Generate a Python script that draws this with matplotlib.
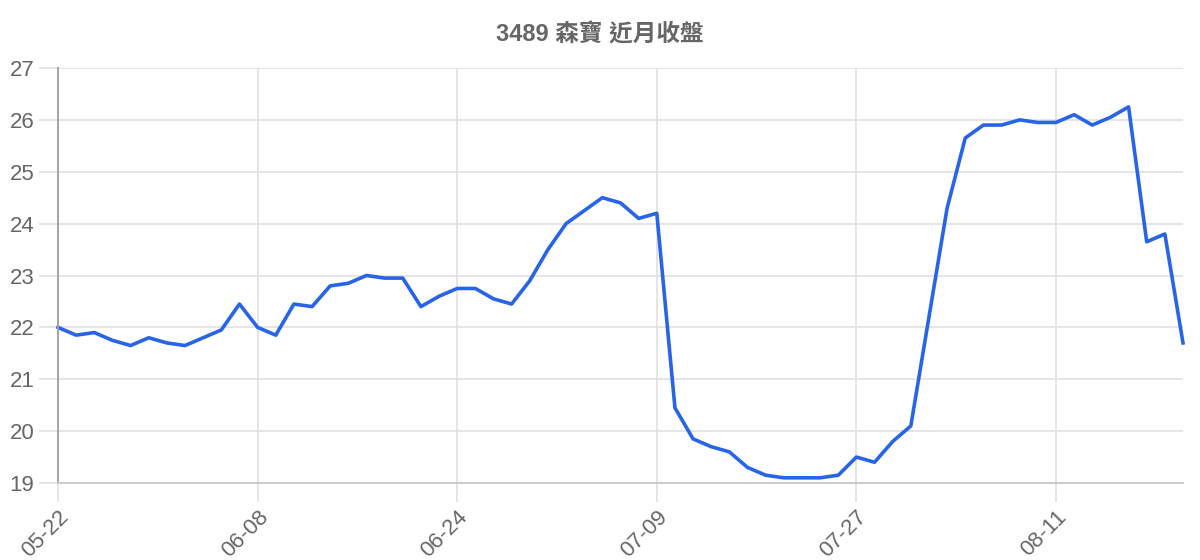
import matplotlib
matplotlib.use('Agg')
import matplotlib.pyplot as plt

plt.rcParams['font.family'] = ['Liberation Sans', 'Noto Sans CJK TC', 'DejaVu Sans']

# closing prices, 63 trading days
closes = [22.0, 21.85, 21.9, 21.75, 21.65, 21.8, 21.7, 21.65, 21.8, 21.95,
          22.45, 22.0, 21.85, 22.45, 22.4, 22.8, 22.85, 23.0, 22.95, 22.95,
          22.4, 22.6, 22.75, 22.75, 22.55, 22.45, 22.9, 23.5, 24.0, 24.25,
          24.5, 24.4, 24.1, 24.2, 20.45, 19.85, 19.7, 19.6, 19.3, 19.15,
          19.1, 19.1, 19.1, 19.15, 19.5, 19.4, 19.8, 20.1, 22.2, 24.3,
          25.65, 25.9, 25.9, 26.0, 25.95, 25.95, 26.1, 25.9, 26.05, 26.25,
          23.65, 23.8, 21.7]
tick_pos = [0, 11, 22, 33, 44, 55]
tick_labels = ['05-22', '06-08', '06-24', '07-09', '07-27', '08-11']
y_ticks = [19, 20, 21, 22, 23, 24, 25, 26, 27]
title = '3489 森寶 近月收盤'

fig = plt.figure(figsize=(12, 5.6), dpi=100)
ax = fig.add_axes([58/1200, 1-483/560, 1125/1200, 415/560])

x = list(range(len(closes)))
ax.plot(x, closes, color='#2864e8', linewidth=2.6, clip_on=False)

ax.set_xlim(0, len(closes)-1)
ax.set_ylim(19, 27)
ax.set_xticks(tick_pos)
ax.set_xticklabels(tick_labels, rotation=45, ha='right', va='top', rotation_mode='anchor')
ax.set_yticks(y_ticks)

ax.grid(True, color='#e0e0e0', linewidth=1.2)
ax.set_axisbelow(True)
for s in ['top', 'right']:
	ax.spines[s].set_visible(False)
ax.spines['left'].set_color('#9e9e9e')
ax.spines['left'].set_linewidth(1.3)
ax.spines['bottom'].set_color('#c8c8c8')
ax.spines['bottom'].set_linewidth(1.3)

ax.tick_params(axis='y', length=14, width=1.2, color='#e0e0e0', labelcolor='#666666', labelsize=16, pad=3)
ax.tick_params(axis='x', length=14, width=1.2, color='#e0e0e0', labelcolor='#666666', labelsize=16, pad=3)

fig.text(600/1200, 1-35/560, title, ha='center', va='center', fontsize=17,
	fontweight='bold', color='#666666')

plt.savefig('out.png', dpi=100)
